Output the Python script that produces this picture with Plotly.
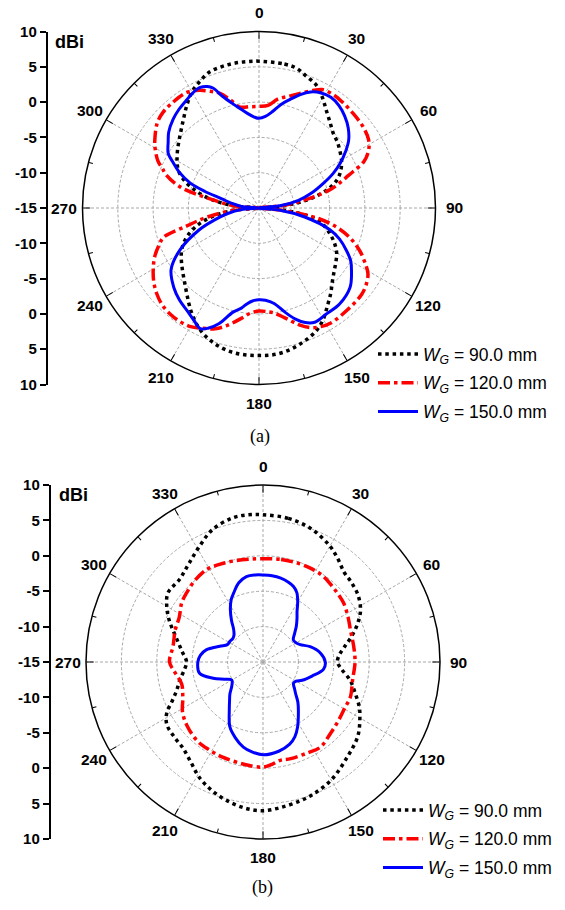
import math
import plotly.graph_objects as go

# ---------------- data (dBi vs angle in degrees) ----------------
SERIES_NAMES = ["<i>W</i><sub><i>G</i></sub> = 90.0 mm",
                "<i>W</i><sub><i>G</i></sub> = 120.0 mm",
                "<i>W</i><sub><i>G</i></sub> = 150.0 mm"]

# panel (a)
A_BLACK_T = [0, 10, 15, 20, 25, 30, 35, 40, 45, 50, 55, 60, 65, 70, 75, 80, 85, 90,
             95, 100, 105, 110, 115, 120, 125, 130, 135, 140, 145, 150, 155, 160, 165, 170, 175, 180,
             185, 190, 195, 200, 205, 210, 215, 220, 225, 230, 235, 240, 245, 250, 255, 260, 265, 270,
             275, 280, 285, 290, 295, 300, 305, 310, 315, 320, 325, 330, 335, 340, 345, 350, 355, 360]
A_BLACK_R = [5.8, 5.7, 5.5, 4.8, 4.2, 3.0, 1.7, 0.7, -0.1, -0.5, -1.0, -1.5, -2.2, -3.2, -5.0, -7.8, -11.5, -15,
             -11.5, -7.5, -5.5, -4.3, -3.2, -2.3, -1.7, -1.1, -0.3, 0.8, 1.9, 3.2, 4.2, 4.8, 5.3, 5.7, 5.9, 5.9,
             5.9, 5.8, 5.5, 5.0, 4.3, 3.3, 2.1, 0.9, -0.1, -0.9, -1.6, -2.3, -3.2, -4.5, -6.2, -8.5, -11.5, -15,
             -11.5, -8.2, -5.8, -3.8, -2.4, -1.6, -0.9, -0.2, 0.6, 1.6, 2.8, 4.0, 4.8, 5.5, 5.7, 5.8, 5.8, 5.8]

A_RED_T = [0, 5, 10, 15, 20, 25, 28, 33, 38, 45, 52, 58, 62, 66, 70, 75, 79, 84, 90,
           96, 100, 104, 108, 113, 117, 121, 125, 130, 139, 148, 153, 157, 161, 165, 172, 176, 180,
           185, 188, 195, 200, 205, 210, 215, 220, 225, 230, 235, 240, 245, 250, 253, 256, 260, 265, 270,
           275, 280, 285, 290, 292, 295, 300, 303, 310, 315, 320, 328, 333, 338, 341, 345, 349, 355, 360]
A_RED_R = [-0.6, -0.4, 0.7, 1.4, 2.3, 3.4, 4.0, 4.2, 4.1, 3.9, 3.7, 3.3, 2.6, 1.3, -1.5, -4.3, -7.5, -11.5, -15,
           -11.5, -6.5, -3.6, -1.5, 0.5, 1.8, 3.0, 3.6, 4.0, 4.1, 4.2, 3.9, 3.4, 2.5, 1.4, 0.0, -0.3, -0.4,
           0.0, 0.6, 2.2, 3.2, 3.8, 4.4, 4.6, 4.6, 4.4, 3.9, 3.2, 2.3, 1.3, 0.0, -0.9, -4.4, -7.5, -11.5, -15,
           -11.5, -8.4, -3.4, -0.9, -0.3, 0.8, 2.0, 2.6, 3.8, 4.2, 4.3, 4.3, 3.7, 2.8, 2.2, 0.9, -0.4, -0.6, -0.6]

A_BLUE_T = [0, 4, 8, 12, 16, 20, 24, 28, 33, 38, 43, 48, 53, 57, 61, 65, 69, 74, 79, 84, 90,
            96, 101, 107, 111, 116, 120, 124, 131, 140, 148, 154, 158, 162, 166, 171, 176, 180,
            184, 187, 190, 194, 199, 203, 206, 210, 215, 221, 227, 235, 242, 250, 255, 260, 265, 270,
            275, 280, 284, 287, 290, 294, 298, 301, 306, 310, 316, 321, 326, 330, 334, 337, 339, 342, 346, 349, 353, 357, 360]
A_BLUE_R = [-2.3, -2.0, -1.2, 0.0, 1.0, 2.1, 3.0, 3.5, 3.7, 3.4, 2.8, 2.0, 0.9, -0.4, -1.8, -3.4, -5.2, -7.2, -9.3, -12, -15,
            -12, -8.5, -4.5, -2.8, -1.2, 0.0, 0.8, 2.1, 2.75, 2.8, 3.0, 2.5, 1.5, 0.2, -1.3, -1.9, -2.0,
            -1.8, -1.35, -0.6, 0.2, 2.3, 3.5, 4.0, 3.4, 2.75, 2.2, 1.5, 0.2, -2.3, -6.0, -8.5, -10.5, -12.5, -15,
            -12.5, -11, -9.5, -7.0, -4.6, -2.7, -1.2, 0.0, 0.9, 1.7, 2.5, 3.0, 3.4, 3.8, 4.0, 3.7, 3.2, 1.6, 0.2, -0.6, -1.5, -2.1, -2.3]

# panel (b)
B_BLACK_T = [0, 10, 20, 30, 36, 42, 48, 55, 62, 68, 74, 80, 85, 90, 95, 102, 109, 115, 120, 128, 138,
             150, 159, 165, 173, 180, 187, 195, 202, 209, 216, 223, 230, 237, 242, 247, 252, 258, 264, 270,
             278, 286, 294, 300, 306, 315, 323, 331, 339, 348, 354, 360]
B_BLACK_R = [5.8, 5.6, 5.0, 3.9, 3.0, 2.1, 1.8, 1.4, 0.6, -0.6, -2.0, -3.4, -4.2, -4.5, -3.9, -2.4, -1.2, 0.0, 0.8, 2.0, 2.9,
             4.25, 4.95, 5.3, 5.7, 6.0, 5.8, 5.2, 4.5, 3.6, 2.4, 1.6, 1.4, 1.2, 0.4, -1.1, -2.2, -3.0, -3.8, -4.2,
             -3.4, -2.2, -0.5, 0.7, 1.6, 1.6, 2.4, 3.6, 5.0, 5.8, 5.9, 5.8]

B_RED_T = [0, 10, 20, 28, 35, 42, 48, 54, 62, 70, 80, 90, 101, 112, 119, 128, 137, 146, 154, 164, 170, 175,
           180, 190, 203, 212, 220, 230, 238, 246, 255, 263, 270, 280, 290, 298, 306, 312, 320, 329, 336, 344, 352, 360]
B_RED_R = [-0.4, -0.3, -0.2, -0.15, -0.2, -0.5, -0.7, -0.9, -1.4, -1.85, -2.0, -2.0, -2.1, -1.7, -1.75, -1.5, -1.1, -0.5, -0.7, -0.8, -0.9, -0.5,
           -0.15, -0.3, -0.4, -0.45, -0.5, -1.0, -1.6, -2.6, -3.1, -2.5, -1.8, -2.1, -1.8, -1.6, -0.8, -0.45, 0.0, 0.3, 0.1, -0.15, -0.35, -0.4]

B_BLUE_T = [0, 6, 12, 18, 22, 26, 30, 34, 38, 43, 48, 54, 60, 65, 72, 81, 90, 97, 106, 115, 120, 125, 130, 134,
            139, 144, 152, 157, 162, 170, 180, 187, 193, 200, 207, 215, 221, 226, 233, 240, 246, 252, 260, 270,
            276, 282, 290, 296, 302, 308, 313, 318, 323, 328, 333, 337, 343, 349, 355, 360]
B_BLUE_R = [-2.7, -2.75, -2.9, -3.2, -3.5, -4.1, -5.2, -6.4, -7.2, -8.1, -9.0, -9.7, -9.6, -9.2, -8.0, -6.8, -6.2, -6.4, -7.8, -8.9, -9.6, -9.75, -9.2, -8.6,
            -7.5, -6.5, -4.6, -3.5, -2.8, -2.2, -1.9, -2.2, -2.65, -3.6, -4.7, -6.7, -7.8, -8.5, -9.5, -9.9, -9.0, -7.6, -5.9, -5.8,
            -6.1, -6.8, -8.5, -9.4, -9.5, -9.6, -9.4, -8.8, -7.6, -6.3, -5.1, -4.4, -3.3, -2.7, -2.65, -2.7]

ANG_MAJOR = [0, 30, 60, 90, 120, 150, 180, 210, 240, 270, 300, 330]
ANG_MAJOR_TEXT = ["0", "30", "60", "90", "120", "150", "180", "210", "240", "270", "300", "330"]
ANG_MINOR = [15, 45, 75, 105, 135, 165, 195, 225, 255, 285, 315, 345]
R_GRID = [-10, -5, 0, 5]
R_RANGE = [-15, 10]
LEFT_TICKVALS = [-25, -20, -15, -10, -5, 0, 5, 10, 15, 20, 25]
LEFT_TICKTEXT = ["10", "5", "0", "-5", "-10", "-15", "-10", "-5", "0", "5", "10"]

# ---------------- geometry ----------------
W, H = 565, 910
PANELS = [dict(cx=259, cy=208, R=176.5, axis_x=47.5, dbi=(69, 42), cap=(260, 436), cap_text="(a)",
               leg=(373, 336), lab_off=19),
          dict(cx=263, cy=662, R=177, axis_x=50.5, dbi=(73, 495), cap=(262, 887), cap_text="(b)",
               leg=(378, 792), lab_off=18)]

FONT = "Arial, Liberation Sans, sans-serif"
COLORS = ["#000000", "#ff0000", "#0000ff"]
DASHES = ["3.5px,3.8px", "12px,4px,3.5px,4px", "solid"]
WIDTHS = [3.5, 3.5, 3.0]


def domains(p):
    x = [(p["cx"] - p["R"]) / W, (p["cx"] + p["R"]) / W]
    y = [1 - (p["cy"] + p["R"]) / H, 1 - (p["cy"] - p["R"]) / H]
    return x, y


fig = go.Figure()
data_sets = [
    [(A_BLACK_T, A_BLACK_R), (A_RED_T, A_RED_R), (A_BLUE_T, A_BLUE_R)],
    [(B_BLACK_T, B_BLACK_R), (B_RED_T, B_RED_R), (B_BLUE_T, B_BLUE_R)],
]

layout_upd = {}
annotations = []
for k, p in enumerate(PANELS):
    sp = "polar" if k == 0 else "polar2"
    sp_minor = "polar3" if k == 0 else "polar4"
    lg = "legend" if k == 0 else "legend2"
    xd, yd = domains(p)
    for i, (t, r) in enumerate(data_sets[k]):
        fig.add_trace(go.Scatterpolar(
            r=r, theta=t, mode="lines", name=SERIES_NAMES[i], subplot=sp, legend=lg,
            legendgroup=f"g{k}{i}",
            line=dict(color=COLORS[i], width=WIDTHS[i], dash=DASHES[i], shape="spline", smoothing=1.0),
        ))
    fig.add_trace(go.Scatterpolar(r=[None], theta=[None], subplot=sp_minor, showlegend=False,
                                  hoverinfo="skip", mode="lines"))
    layout_upd[sp] = dict(
        domain=dict(x=xd, y=yd), bgcolor="white",
        radialaxis=dict(range=R_RANGE, tickvals=R_GRID, showticklabels=False, ticks="", showline=False,
                        showgrid=True, gridcolor="#a8a8a8", gridwidth=0.8, griddash="3px,2px"),
        angularaxis=dict(rotation=90, direction="clockwise", tickvals=ANG_MAJOR, showticklabels=False,
                         ticks="inside", ticklen=7, tickwidth=1.3, tickcolor="black",
                         showline=True, linecolor="black", linewidth=1.5,
                         showgrid=True, gridcolor="#a8a8a8", gridwidth=0.8, griddash="3px,2px"),
    )
    layout_upd[sp_minor] = dict(
        domain=dict(x=xd, y=yd), bgcolor="rgba(0,0,0,0)",
        radialaxis=dict(range=R_RANGE, showticklabels=False, ticks="", showline=False, showgrid=False),
        angularaxis=dict(rotation=90, direction="clockwise", tickvals=ANG_MINOR, showticklabels=False,
                         ticks="inside", ticklen=4, tickwidth=1.2, tickcolor="black",
                         showline=False, showgrid=False),
    )
    # angular tick labels placed just outside the circle
    for ang, txt in zip(ANG_MAJOR, ANG_MAJOR_TEXT):
        rr = p["R"] + p["lab_off"]
        px = p["cx"] + rr * math.sin(math.radians(ang))
        py = p["cy"] - rr * math.cos(math.radians(ang))
        annotations.append(dict(x=px / W, y=1 - py / H, xref="paper", yref="paper", text=txt,
                                showarrow=False, xanchor="center", yanchor="middle",
                                font=dict(family=FONT, size=15.5, color="black", weight="bold")))
    # left linear dBi axis
    xa = "xaxis" if k == 0 else "xaxis2"
    ya = "yaxis" if k == 0 else "yaxis2"
    xs = "x" if k == 0 else "x2"
    fig.add_trace(go.Scatter(x=[None], y=[None], xaxis=xs, yaxis=("y" if k == 0 else "y2"),
                             showlegend=False, hoverinfo="skip"))
    ax0 = p["axis_x"] / W
    layout_upd[xa] = dict(domain=[ax0, ax0 + 1.0 / W], visible=False, range=[0, 1], automargin=False)
    layout_upd[ya] = dict(domain=yd, range=[-25, 25], tickvals=LEFT_TICKVALS, ticktext=LEFT_TICKTEXT,
                          showline=True, linecolor="black", linewidth=1.5, ticks="outside", ticklen=6,
                          tickwidth=1.5, tickcolor="black", showgrid=False, zeroline=False,
                          tickfont=dict(family=FONT, size=15, color="black", weight="bold"),
                          anchor=xs, fixedrange=True, automargin=False)
    layout_upd[lg] = dict(x=p["leg"][0] / W, y=1 - p["leg"][1] / H, xanchor="left", yanchor="top",
                          bgcolor="rgba(0,0,0,0)", font=dict(family=FONT, size=17.5, color="black"),
                          tracegroupgap=3, itemwidth=40)
    annotations.append(dict(x=p["dbi"][0] / W, y=1 - p["dbi"][1] / H, xref="paper", yref="paper",
                            text="dBi", showarrow=False, xanchor="center", yanchor="middle",
                            font=dict(family=FONT, size=18, color="black", weight="bold")))
    annotations.append(dict(x=p["cap"][0] / W, y=1 - p["cap"][1] / H, xref="paper", yref="paper",
                            text=p["cap_text"], showarrow=False, xanchor="center", yanchor="middle",
                            font=dict(family="Liberation Serif, Times New Roman, serif", size=18,
                                      color="black")))

fig.update_layout(
    width=W, height=H, margin=dict(l=0, r=0, t=0, b=0, autoexpand=False),
    paper_bgcolor="white", plot_bgcolor="rgba(0,0,0,0)",
    annotations=annotations, **layout_upd,
)

fig.write_html("out.html")
